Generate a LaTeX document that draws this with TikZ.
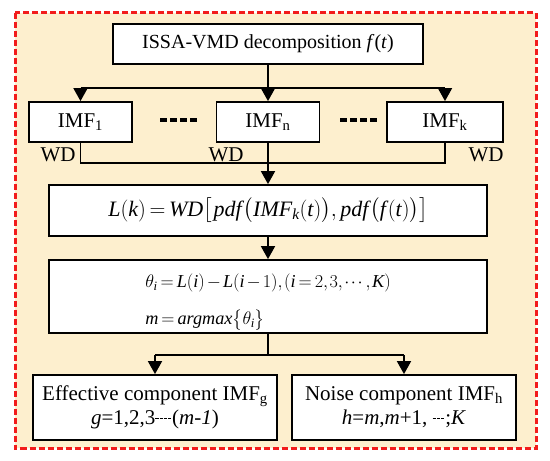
\RequirePackage{fix-cm}
\documentclass[tikz,border=0pt]{standalone}
\usepackage{amsmath}
\usepackage{fontspec}
\setmainfont{Liberation Serif}
\usepackage{graphicx}
\usetikzlibrary{arrows.meta}
\definecolor{bgfill}{HTML}{FDEFCE}
\definecolor{bordred}{HTML}{F21C1C}
\newcommand\smalldash{\rule[6pt]{3.2pt}{1pt}\kern1pt}
\newcommand\ti[1]{\textit{#1}}
\begin{document}
\begin{tikzpicture}[x=1pt,y=-1pt,
  box/.style={draw, line width=1.8pt, fill=white, inner sep=0pt, align=center,
    font=\fontsize{21}{25}\selectfont},
  conn/.style={line width=1.8pt},
  arr/.style={conn, -{Triangle[width=14pt,length=13pt]}},
  lbl/.style={inner sep=0pt, font=\fontsize{21}{25}\selectfont},
  tight/.style={execute at begin node={\thinmuskip=1.5mu\medmuskip=2mu\thickmuskip=3mu}}]
\useasboundingbox (0,0) rectangle (550,461);
% outer frame
\draw[bordred, fill=bgfill, line width=3pt, dash pattern=on 6pt off 3pt]
  (15,12.5) rectangle (536,448);
% nodes
\node[box, minimum width=310pt, minimum height=40pt, font=\fontsize{20}{24}\selectfont] (top) at (268,44)
  {ISSA-VMD decomposition \textit{f}(\textit{t})};
\node[box, minimum width=103pt, minimum height=40pt] (imf1) at (80.5,122)
  {IMF\textsubscript{1}};
\node[box, minimum width=103pt, minimum height=40pt] (imfn) at (268,122)
  {IMF\textsubscript{n}};
\node[box, minimum width=116pt, minimum height=40pt] (imfk) at (445,122)
  {IMF\textsubscript{k}};
\node[lbl] (wd1) at (58,155) {WD};
\node[lbl] (wdn) at (226,155) {WD};
\node[lbl] (wdk) at (486,155) {WD};
\node[box, tight, minimum width=438pt, minimum height=51pt, font=\fontsize{22}{26}\selectfont] (lk) at (268,210.5)
  {$\ti{L}(\ti{k})=\ti{WD}\big[\,\ti{pdf}\,\big(\ti{IMF}_{\ti{k}}(\ti{t})\big),\,\ti{pdf}\,\big(\ti{f}\,(\ti{t})\big)\big]$};
\node[box, tight, minimum width=438pt, minimum height=73pt, align=left, font=\fontsize{18.2}{21}\selectfont] (th) at (268,296.5)
  {\rule{0pt}{26pt}$\theta_{\ti{i}}=\ti{L}(\ti{i})-\ti{L}(\ti{i}-1),(\ti{i}=2,3,\cdots,\ti{K})$\\[16pt]
   $\ti{m}=\ti{argmax}\big\{\theta_{\ti{i}}\big\}$};
\node[box, minimum width=244pt, minimum height=65pt, align=center] (eff) at (155,407.5)
  {Effective component IMF\textsubscript{g}\\[-1pt]
   \textit{g}=1,2,3\smalldash\smalldash\smalldash\smalldash(\textit{m}-\textit{1})};
\node[box, minimum width=224pt, minimum height=65pt, align=center] (noi) at (404,407.5)
  {Noise component IMF\textsubscript{h}\\[-1pt]
   \textit{h}=\textit{m},\textit{m}+1, \smalldash\smalldash\smalldash;\textit{K}};
% dashes between IMF boxes
\draw[line width=3.5pt, dash pattern=on 7pt off 3pt] (160,120) -- (197,120);
\draw[line width=3.5pt, dash pattern=on 7pt off 3pt] (340,120) -- (377,120);
% top split
\coordinate (j1) at (268,88);
\coordinate (jl) at (80.5,88);
\coordinate (jr) at (445,88);
\draw[conn] (top.south -| j1) -- (j1);
\draw[conn] (jl) -- (jr);
\draw[arr] (jl) -- (jl |- imf1.north);
\draw[arr] (j1) -- (j1 |- imfn.north);
\draw[arr] (jr) -- (jr |- imfk.north);
% merge
\coordinate (m1) at (268,163);
\draw[conn] (jl |- imf1.south) -- (jl |- m1) -- (jr |- m1) -- (jr |- imfk.south);
\draw[conn] (j1 |- imfn.south) -- (m1);
\draw[arr] (m1) -- (m1 |- lk.north);
\draw[arr] (m1 |- lk.south) -- (m1 |- th.north);
% bottom split
\coordinate (b1) at (268,355);
\coordinate (bl) at (155,355);
\coordinate (br) at (404,355);
\draw[conn] (b1 |- th.south) -- (b1);
\draw[conn] (bl) -- (br);
\draw[arr] (bl) -- (bl |- eff.north);
\draw[arr] (br) -- (br |- noi.north);
\end{tikzpicture}
\end{document}
